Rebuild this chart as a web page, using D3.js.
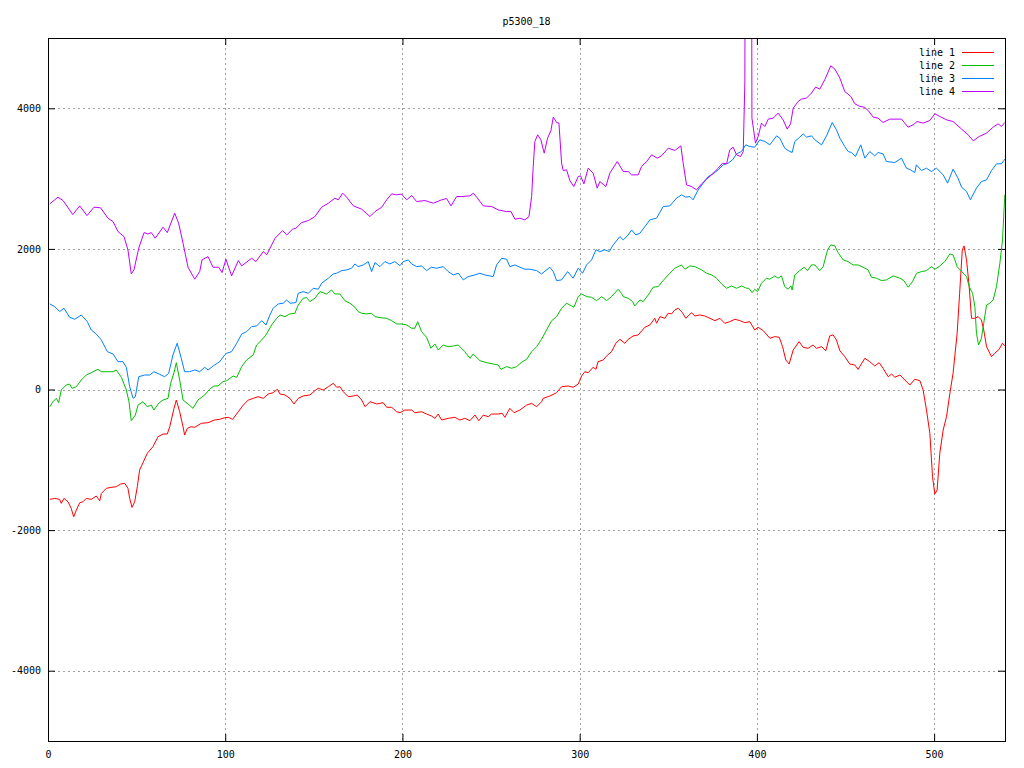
<!DOCTYPE html>
<html>
<head>
<meta charset="utf-8">
<script src="https://cdn.jsdelivr.net/npm/d3@7"></script>
<style>
  html, body { margin: 0; padding: 0; background: #fff; }
  svg { display: block; }
  text { font-family: "DejaVu Sans Mono", monospace; font-size: 10px; fill: #000; }
</style>
</head>
<body>
<svg id="chart" width="1024" height="768"></svg>
<script>
const chartTitle = "p5300_18";
const seriesNames = ["line 1", "line 2", "line 3", "line 4"];
const xTicks = [0, 100, 200, 300, 400, 500];
const yTicks = [-4000, -2000, 0, 2000, 4000];

const line1X = [1,3.8,6.6,7.5,9,11.3,13.1,14.5,16,17.9,19.7,21.6,24.4,27.2,29.2,30.1,32.9,35.7,38.5,41,43.3,45.1,46.1,47.4,48.9,50.4,51.7,53.6,56,59.2,62.1,64.9,67.3,68.7,71.1,72.4,74.3,76.2,77.1,78.6,80.8,82.8,86.5,90.3,94,96.9,99.7,101.7,104.2,107.4,110.2,113,115.8,118.6,121.5,124.3,127.1,129.4,130.9,133.7,136.5,138.8,141.2,144,147.8,150.6,152.5,155.3,158.2,161,162.9,164.7,166.6,169.4,172.3,174.5,177,178.9,181.7,185.5,189.1,191.1,193.9,196.7,198.6,201.4,205.2,207,210.8,213.6,216.4,218.3,220.2,222.1,225.8,229.6,232.4,235.2,238.1,240.9,243.1,245.6,248.4,250.3,254,256.3,257.8,260.6,263,266.3,270.1,272.9,275.7,278.5,279.4,283.2,287,289.8,293.5,296.3,299.2,301.1,302.9,304.8,307.6,309.2,310.4,313.3,315.2,318,320.4,322.7,325.5,327.4,330.2,333,336.8,339.6,342.4,343.4,345.3,348.1,349.9,351.8,353.7,355.6,358,359.9,361.8,363.1,365,367.8,370.6,373.5,376.3,379.1,381.9,384.7,387.6,390.4,393.2,396,398.8,400.7,403.6,407.3,410.1,412.6,414.5,416.3,418.2,420.5,423.8,426.1,428.9,431.7,433.6,436.5,438.9,441.1,443,444.9,446.8,449.6,452.4,455.2,457.1,460.9,463.7,466.5,469,471.2,474.1,476,477.8,480.7,483.5,486.3,489.1,492,493.8,495.7,497.6,499.1,500.4,501.7,503.2,505.1,507,508.9,510.7,513,514.4,515.9,516.9,518.3,519.8,521.1,523,524.9,526.7,528,529.6,532.4,534.2,536.7,538.6,539.9];
const line1Y = [-1563,-1549,-1563,-1620,-1549,-1597,-1691,-1811,-1715,-1611,-1597,-1549,-1563,-1516,-1583,-1478,-1406,-1392,-1383,-1345,-1335,-1406,-1549,-1677,-1597,-1383,-1146,-1042,-908,-814,-672,-633,-633,-529,-268,-150,-316,-529,-648,-553,-529,-538,-481,-472,-434,-424,-401,-396,-424,-316,-221,-150,-126,-102,-126,-64,-45,3,-64,-78,-126,-206,-126,-92,-78,-17,17,-7,40,88,31,40,-31,-102,-92,-78,-150,-245,-174,-206,-188,-253,-253,-316,-330,-292,-292,-330,-316,-349,-377,-410,-349,-434,-410,-396,-434,-410,-444,-363,-444,-363,-387,-349,-349,-339,-396,-268,-330,-292,-221,-197,-245,-174,-126,-92,-45,40,50,31,78,192,253,239,316,287,396,420,477,538,658,714,658,714,762,776,885,918,1013,942,1036,1013,1084,1075,1132,1156,1093,1013,1060,1093,1046,1060,1046,1013,979,1013,942,965,999,979,951,965,847,885,837,729,752,743,609,420,363,562,680,600,586,633,586,609,552,762,776,705,552,467,363,349,287,444,396,335,381,302,182,221,174,206,135,64,145,125,-7,-292,-623,-1241,-1488,-1431,-908,-577,-387,-54,231,800,1369,1986,2043,1843,1464,1013,1013,1036,989,847,609,467,515,572,658,619];

const line2X = [1,2.8,4.7,6,7.5,10.3,12.2,13.5,16,18.8,21.6,24.4,28.2,30.1,33.8,36.7,38.5,41.4,44.2,45.7,47,49.3,50.8,53.6,56,58.3,59.8,62.4,64.9,67.7,69.2,71.1,72.4,74.3,76.2,79,81.8,84.6,88.4,91.2,93.6,95.9,98.7,100.8,104.5,106.5,109.3,112.1,115.8,117.7,120.6,123,126.2,129,130.9,133.7,136.5,139.3,141.2,144,145.9,147.8,150.6,153.4,157.2,160,161.9,164.7,167.5,170.4,173.2,175,177,179.8,182.6,184.5,187.3,191.1,193.9,196.7,199.5,202.4,205.2,207,208.6,210.8,213.6,216.1,218.3,220.2,223,225.8,228.7,231.5,235.2,238.1,239.9,243.7,247.5,251.2,254,255.6,258.8,261.6,264.4,267.2,270.1,272.9,275.7,278.5,281.3,284.2,287,289.8,292.6,295.4,296.7,299.2,301.1,303.9,306.7,309.5,312.4,315.2,318,321.7,323.6,324.6,327.4,329.9,331.1,334,335.8,338.7,341.5,344.3,347.1,350,353.7,357.5,359.4,362.2,365,368.8,371.6,374.4,377.2,380.1,382.9,385.7,388.5,391.3,394.2,395.5,397.3,398.8,400.4,402.6,405.4,407.3,410.1,412,413.9,415.7,417.6,419.2,419.9,421.4,424.2,426.7,428.6,430.8,432.7,435.5,437.4,439.9,441.7,444,445.8,448.7,451.5,454.3,457.1,459.9,462.8,464.6,467.5,470.3,473.1,476.9,480.7,482.9,485.4,487.8,490.1,492.9,495.7,498.5,500.4,502.8,506,508.9,510.7,513,515.5,518.3,519.8,521.7,523,523.9,525.1,526.7,528,529.6,531.4,533.3,535.2,537.1,538.6,539.9];
const line2Y = [-245,-174,-126,-188,-7,64,78,17,40,135,206,239,287,253,253,253,278,174,-7,-174,-444,-363,-221,-174,-245,-221,-292,-197,-150,-126,88,239,381,135,-150,-206,-268,-150,-78,3,50,50,111,125,192,174,325,420,491,633,705,776,918,1013,1060,1036,1075,1084,1203,1298,1307,1250,1298,1392,1359,1416,1359,1359,1264,1227,1170,1108,1084,1075,1084,1036,1022,1013,979,932,932,918,871,871,965,823,743,586,648,562,633,609,619,633,538,444,505,410,381,363,349,287,325,302,325,387,430,538,609,714,847,979,1036,1156,1227,1189,1170,1321,1359,1321,1312,1264,1321,1264,1321,1426,1369,1321,1298,1250,1189,1274,1250,1345,1455,1464,1549,1630,1725,1772,1711,1758,1748,1701,1654,1630,1583,1502,1440,1473,1440,1473,1440,1440,1378,1426,1392,1512,1583,1569,1616,1583,1616,1464,1426,1473,1416,1630,1691,1739,1691,1772,1772,1691,1748,1986,2057,2043,1948,1843,1819,1772,1772,1739,1701,1597,1583,1549,1559,1616,1583,1549,1455,1535,1654,1677,1691,1748,1711,1748,1819,1929,1915,1748,1677,1606,1464,1369,1179,800,633,729,942,1203,1227,1274,1464,1796,2128,2770];

const line3X = [1,3.8,6.6,9,12.2,15.1,18.8,22.2,24.4,27.2,30.1,33.5,36.7,39.5,42.3,44.2,46.1,48,49.3,51.2,54.5,57.4,59.8,63,65.8,68.1,70.5,72.9,75.2,77.1,79.9,82.8,85.6,88.4,90.3,94,96.9,99.7,100.8,103.6,106.5,109.3,112.1,114.9,117.7,120.6,123,125.2,127.1,129.9,132.7,134.7,136.5,139.9,141.2,144,146.9,149.7,152.5,154.4,158.2,161,162.9,165.7,168.5,171.3,173.2,175,177.9,180.7,182.6,184.5,187.3,190.1,192.9,195.7,198.6,200.4,203.3,205.2,208,210.8,213.6,216.4,219.3,223,225.8,228.7,231.5,234.3,237.1,240.9,243.7,246.5,251.2,253.1,256,258.8,260.6,263.5,266.3,269.1,271.9,275.7,278.5,283.2,285.1,287,289.8,293.2,296.3,299.2,301.6,303.9,306.7,309.2,311.4,314.2,316.7,318.9,322.7,324.6,327.4,329.3,331.7,334,336.8,339.6,343.4,347.1,350.9,354.7,357.5,359.9,362.2,364,366.9,369.7,372.5,375.3,378.2,381,383.8,386.3,388.5,391.3,393.7,396,398.8,401.6,404.5,407.3,411.1,412.9,415.7,417.6,419.9,421.4,424.2,426.1,428,430.8,432.7,436.5,439.3,442.5,444.9,446.8,449.6,451.5,453.4,455.6,458.6,460.9,463.7,466.5,468.4,471.2,473.1,477.8,481.6,484.4,486.7,489.1,490,492.9,495.7,498.5,501.3,505.1,507.6,510.7,513.5,515.5,518.3,520.5,523.9,526.7,529.6,532.4,535.2,538,539.9];
const line3Y = [1217,1179,1108,1156,1028,999,1060,965,847,790,705,538,505,396,396,316,40,-125,-102,182,206,206,253,216,182,230,491,658,444,253,253,278,253,316,278,349,396,491,515,538,658,790,823,894,904,979,918,1060,1156,1217,1227,1274,1227,1236,1369,1392,1369,1440,1426,1512,1583,1644,1654,1691,1701,1725,1786,1748,1772,1819,1677,1805,1748,1819,1786,1819,1762,1819,1843,1786,1748,1758,1691,1739,1725,1748,1677,1630,1654,1559,1606,1630,1654,1630,1606,1772,1867,1853,1748,1772,1739,1711,1711,1691,1644,1739,1677,1549,1559,1677,1583,1725,1654,1772,1843,1986,1962,1986,1962,2057,2175,2128,2199,2270,2199,2223,2317,2413,2437,2602,2612,2722,2769,2736,2745,2698,2840,2935,3029,3068,3125,3196,3220,3267,3352,3385,3480,3456,3447,3552,3528,3480,3608,3576,3433,3400,3371,3528,3590,3637,3590,3608,3552,3480,3608,3798,3694,3576,3456,3385,3371,3314,3480,3291,3385,3324,3371,3352,3243,3229,3291,3148,3125,3086,3196,3115,3148,3100,3148,3053,2935,3134,3006,2878,2816,2698,2864,2958,2982,3115,3210,3210,3277];

const line4X = [1,5.6,8.5,14,17.9,22,26,29.7,33.8,36.7,39.5,42.9,45.1,47,48.5,51.2,54.2,56.4,58.3,60.5,64.9,67.3,71.5,73.7,76.2,79,82.8,85.6,86.9,90.3,93.1,96.3,98.2,100.4,103.6,107.4,109.3,114.9,117.3,121.5,123.4,128.1,132.4,134.7,138,139.9,143.1,146.9,150.6,154.4,158.2,161.9,163.8,166.3,168.5,172.3,177,181.7,184.5,188.3,191.1,193.9,196.7,199.5,202.4,205.2,208,212.7,217.4,222.1,224.9,227.4,230.6,233.4,238.1,240,241.9,245.6,250.3,254,258.8,261.2,263.5,266.3,269.1,271.4,272.9,273.8,274.7,276.3,278.1,280,281.9,283.8,285.1,287,288.3,289.8,290.7,292.6,294.5,296.7,299.2,300.5,302.4,304.8,307.6,309.9,311.4,314.8,317,321.2,324.6,327.4,329.3,333,334.9,337.8,340.6,343.8,346.2,350,353.7,357.1,358.4,360.3,363.1,366,368.8,371.6,374.4,378.2,380.6,382.9,384.7,386.6,388.5,390.8,392.3,393.2,393.6,396.9,397.2,399.2,400.7,402.6,404.5,406.4,409.2,412,414.8,417.1,419,420.5,423.3,425.2,428,430.8,433.1,435.5,438.3,441.7,444,446.8,449.6,453,455.3,458.1,460.5,462.8,465.6,468.4,471.2,475,481.6,485.3,488.2,490.4,493.8,497.6,500.4,503.2,507,510.7,515.5,519.2,522.1,525.4,529.6,533.3,536.1,538,539.9];
const line4Y = [2640,2736,2688,2488,2612,2474,2594,2584,2437,2389,2246,2175,1986,1644,1701,2010,2232,2213,2232,2152,2309,2232,2508,2366,2081,1739,1569,1677,1843,1890,1739,1739,1663,1853,1616,1834,1758,1867,1820,1962,1915,2152,2261,2199,2280,2294,2374,2403,2460,2593,2650,2722,2698,2793,2736,2612,2565,2460,2531,2593,2698,2783,2769,2779,2698,2759,2674,2688,2650,2698,2717,2612,2745,2745,2755,2793,2736,2612,2603,2555,2531,2531,2422,2437,2413,2460,2745,3172,3527,3623,3552,3362,3576,3684,3875,3798,3789,3220,3115,3125,2970,2887,3029,3039,2925,3148,3077,2864,2958,2887,3077,3243,3100,3100,3053,3053,3172,3243,3338,3291,3324,3433,3400,3466,3220,2911,2887,2840,2925,2992,3053,3148,3220,3210,3409,3447,3338,3314,3385,4359,8000,8000,3860,3504,3599,3789,3741,3846,3860,3931,3836,3704,3779,4003,4097,4131,4145,4216,4302,4273,4406,4605,4558,4430,4239,4168,4064,4026,4017,3969,3875,3860,3798,3846,3846,3732,3765,3812,3789,3827,3922,3884,3836,3812,3704,3623,3537,3599,3647,3732,3779,3741,3798];

const seriesX = [line1X, line2X, line3X, line4X];
const seriesY = [line1Y, line2Y, line3Y, line4Y];
const colors = ["#ff0000", "#00c000", "#0080ff", "#c000ff"];

const svg = d3.select("#chart");
const m = { left: 48, right: 1005, top: 38, bottom: 741 };
const x = d3.scaleLinear().domain([0, 540]).range([m.left, m.right]);
const y = d3.scaleLinear().domain([-5000, 5000]).range([m.bottom, m.top]);

svg.append("defs").append("clipPath").attr("id", "clip")
  .append("rect").attr("x", m.left).attr("y", m.top)
  .attr("width", m.right - m.left).attr("height", m.bottom - m.top);

// grid
const grid = svg.append("g").attr("stroke", "#a0a0a0").attr("stroke-dasharray", "2,3").attr("stroke-width", 1);
xTicks.filter(t => t > 0).forEach(t => {
  grid.append("line").attr("x1", Math.round(x(t)) + 0.5).attr("x2", Math.round(x(t)) + 0.5)
    .attr("y1", m.top).attr("y2", m.bottom);
});
yTicks.forEach(t => {
  grid.append("line").attr("y1", Math.round(y(t)) + 0.5).attr("y2", Math.round(y(t)) + 0.5)
    .attr("x1", m.left).attr("x2", m.right);
});

// axes with d3 axis generators (inward ticks, mirrored)
const tickLen = 7;
const axB = svg.append("g").attr("transform", `translate(0,${m.bottom})`)
  .call(d3.axisBottom(x).tickValues(xTicks).tickSize(-tickLen).tickPadding(10).tickFormat(d3.format("d")));
const axT = svg.append("g").attr("transform", `translate(0,${m.top})`)
  .call(d3.axisTop(x).tickValues(xTicks).tickSize(-tickLen).tickFormat(""));
const axL = svg.append("g").attr("transform", `translate(${m.left},0)`)
  .call(d3.axisLeft(y).tickValues(yTicks).tickSize(-tickLen).tickPadding(7)
    .tickFormat(d => String(d)));
const axR = svg.append("g").attr("transform", `translate(${m.right},0)`)
  .call(d3.axisRight(y).tickValues(yTicks).tickSize(-tickLen).tickFormat(""));
[axB, axT, axL, axR].forEach(a => {
  a.select(".domain").remove();
  a.selectAll("line").attr("stroke", "#000");
  a.selectAll("text").attr("font-family", "DejaVu Sans Mono").attr("font-size", 10).attr("fill", "#000");
});

// data lines
const gData = svg.append("g").attr("clip-path", "url(#clip)");
seriesX.forEach((xs, i) => {
  const pts = xs.map((xv, j) => [xv, seriesY[i][j]]);
  gData.append("path").datum(pts)
    .attr("fill", "none").attr("stroke", colors[i]).attr("stroke-width", 1)
    .attr("d", d3.line().x(d => x(d[0])).y(d => y(d[1])));
});

// border
svg.append("rect").attr("x", m.left + 0.5).attr("y", m.top + 0.5)
  .attr("width", m.right - m.left).attr("height", m.bottom - m.top)
  .attr("fill", "none").attr("stroke", "#000").attr("stroke-width", 1);

// title
svg.append("text").attr("x", (m.left + m.right) / 2).attr("y", 25)
  .attr("text-anchor", "middle").text(chartTitle);

// legend
const leg = svg.append("g");
seriesNames.forEach((n, i) => {
  const yy = 52 + i * 13;
  leg.append("text").attr("x", 955).attr("y", yy + 3.5).attr("text-anchor", "end").text(n);
  leg.append("line").attr("x1", 962).attr("x2", 994).attr("y1", yy + 0.5).attr("y2", yy + 0.5)
    .attr("stroke", colors[i]).attr("stroke-width", 1);
});
</script>
</body>
</html>
